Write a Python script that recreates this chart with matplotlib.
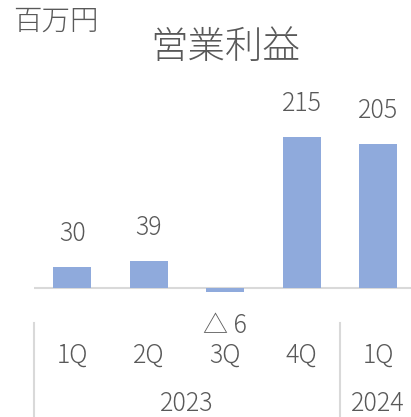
import matplotlib
matplotlib.use("Agg")
import matplotlib.pyplot as plt
import matplotlib.transforms as mtransforms

plt.rcParams["font.family"] = ["Noto Sans CJK JP", "DejaVu Sans"]
plt.rcParams["font.weight"] = "light"

quarters = ["1Q", "2Q", "3Q", "4Q", "1Q"]
years = ["2023", "2024"]
year_spans = [(0, 3), (4, 4)]
values = [30, 39, -6, 215, 205]
value_labels = ["30", "39", "△ 6", "215", "205"]

BAR = "#8faadc"
TEXT = "#595959"
GRID = "#d9d9d9"

W, H = 411, 417
fig = plt.figure(figsize=(W / 100, H / 100), dpi=100)
px_per_cat = 76.5
left = 34
ax_h = 220
ax = fig.add_axes([left / W, 117 / H, 5 * px_per_cat / W, ax_h / H])
scale = 0.702
ymin = -12 / scale
ax.set_ylim(ymin, ymin + ax_h / scale)
ax.set_xlim(-0.5, 4.5)
ax.axis("off")

x = range(len(values))
ax.bar(x, values, width=0.5, color=BAR, zorder=2)
ax.axhline(0, color=GRID, lw=1.5, zorder=1)

for i, (v, lab) in enumerate(zip(values, value_labels)):
    off = 24 if v >= 0 else -24
    ax.annotate(lab, (i, v), xytext=(0, off), textcoords="offset points",
                ha="center", va="center", fontsize=18, color=TEXT)

tr = mtransforms.blended_transform_factory(ax.transData, fig.transFigure)
for i, q in enumerate(quarters):
    ax.text(i, 62 / H, q, transform=tr, ha="center", va="center", fontsize=18, color=TEXT)
for yr, (a, b) in zip(years, year_spans):
    ax.text((a + b) / 2, 13 / H, yr, transform=tr, ha="center", va="center", fontsize=18, color=TEXT)
for sx in [-0.5, 3.5, 4.5]:
    ax.plot([sx, sx], [0, 94 / H], transform=tr, color=GRID, lw=1.5, clip_on=False)

fig.text(225 / W, 1 - 47 / H, "営業利益", ha="center", va="center", fontsize=27, color=TEXT)
fig.text(13 / W, 1 - 21 / H, "百万円", ha="left", va="center", fontsize=20.5, color=TEXT)

fig.savefig("out.png", dpi=100)
